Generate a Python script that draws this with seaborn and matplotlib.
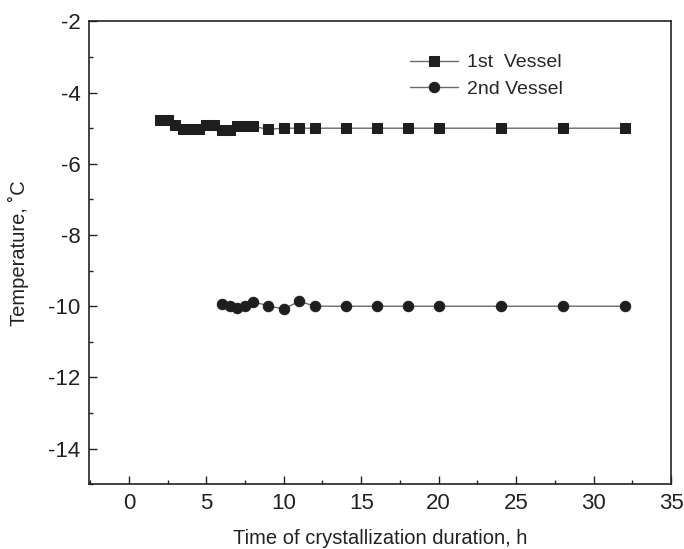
import numpy as np
import pandas as pd
import matplotlib
matplotlib.use("Agg")
import matplotlib.pyplot as plt
from matplotlib.ticker import MultipleLocator
import seaborn as sns

# data
time_1 = [2, 2.5, 3, 3.5, 4, 4.5, 5, 5.5, 6, 6.5, 7, 7.5, 8,
          9, 10, 11, 12, 14, 16, 18, 20, 24, 28, 32]
temp_1 = [-4.78, -4.78, -4.9, -5.02, -5.02, -5.02, -4.9, -4.9, -5.05, -5.05, -4.95, -4.95, -4.95,
          -5.03, -5.0, -5.0, -5.0, -5.0, -5.0, -5.0, -5.0, -5.0, -5.0, -5.0]
time_2 = [6, 6.5, 7, 7.5, 8, 9, 10, 11, 12, 14, 16, 18, 20, 24, 28, 32]
temp_2 = [-9.94, -9.98, -10.04, -10.0, -9.87, -9.99, -10.08, -9.86, -10.0,
          -10.0, -10.0, -10.0, -10.0, -10.0, -10.0, -10.0]
labels = ["1st  Vessel", "2nd Vessel"]

df1 = pd.DataFrame({"t": time_1, "T": temp_1})
df2 = pd.DataFrame({"t": time_2, "T": temp_2})

sns.set_style("ticks")
plt.rcParams["font.family"] = ["Liberation Sans", "DejaVu Sans"]
plt.rcParams["axes.unicode_minus"] = False

fig = plt.figure(figsize=(6.84, 5.49), dpi=100)
ax = fig.add_axes([0.130, 0.118, 0.851, 0.843])

sns.lineplot(data=df1, x="t", y="T", ax=ax, color="#6a6a6a", lw=1,
             marker="s", markersize=7, markerfacecolor="#1e1e1e",
             markeredgecolor="#1e1e1e", label=labels[0])
sns.lineplot(data=df2, x="t", y="T", ax=ax, color="#6a6a6a", lw=1,
             marker="o", markersize=7.5, markerfacecolor="#1e1e1e",
             markeredgecolor="#1e1e1e", label=labels[1])

ax.set_xlim(-2.58, 35)
ax.set_ylim(-15, -2)
ax.xaxis.set_major_locator(MultipleLocator(5))
ax.xaxis.set_minor_locator(MultipleLocator(2.5))
ax.yaxis.set_major_locator(MultipleLocator(2))
ax.yaxis.set_minor_locator(MultipleLocator(1))
ax.tick_params(which="both", direction="in", top=False, right=False,
               labelsize=16, colors="#222222", pad=6)
ax.tick_params(which="major", length=6, width=1)
ax.tick_params(which="minor", length=3, width=1)
for s in ax.spines.values():
    s.set_visible(True)
    s.set_linewidth(1.2)
    s.set_color("#222222")

ax.set_xlabel("Time of crystallization duration, h", fontsize=14.5,
              color="#222222", labelpad=11)
ax.set_ylabel("Temperature, \u02daC", fontsize=14.5, color="#222222", labelpad=14)

leg = ax.legend(loc="upper left", bbox_to_anchor=(400 / 684, 1 - 44 / 549),
                bbox_transform=fig.transFigure, frameon=False, borderpad=0,
                fontsize=14, handlelength=2.5, handletextpad=0.45,
                labelspacing=0.45)

fig.savefig("out.png", dpi=100)
